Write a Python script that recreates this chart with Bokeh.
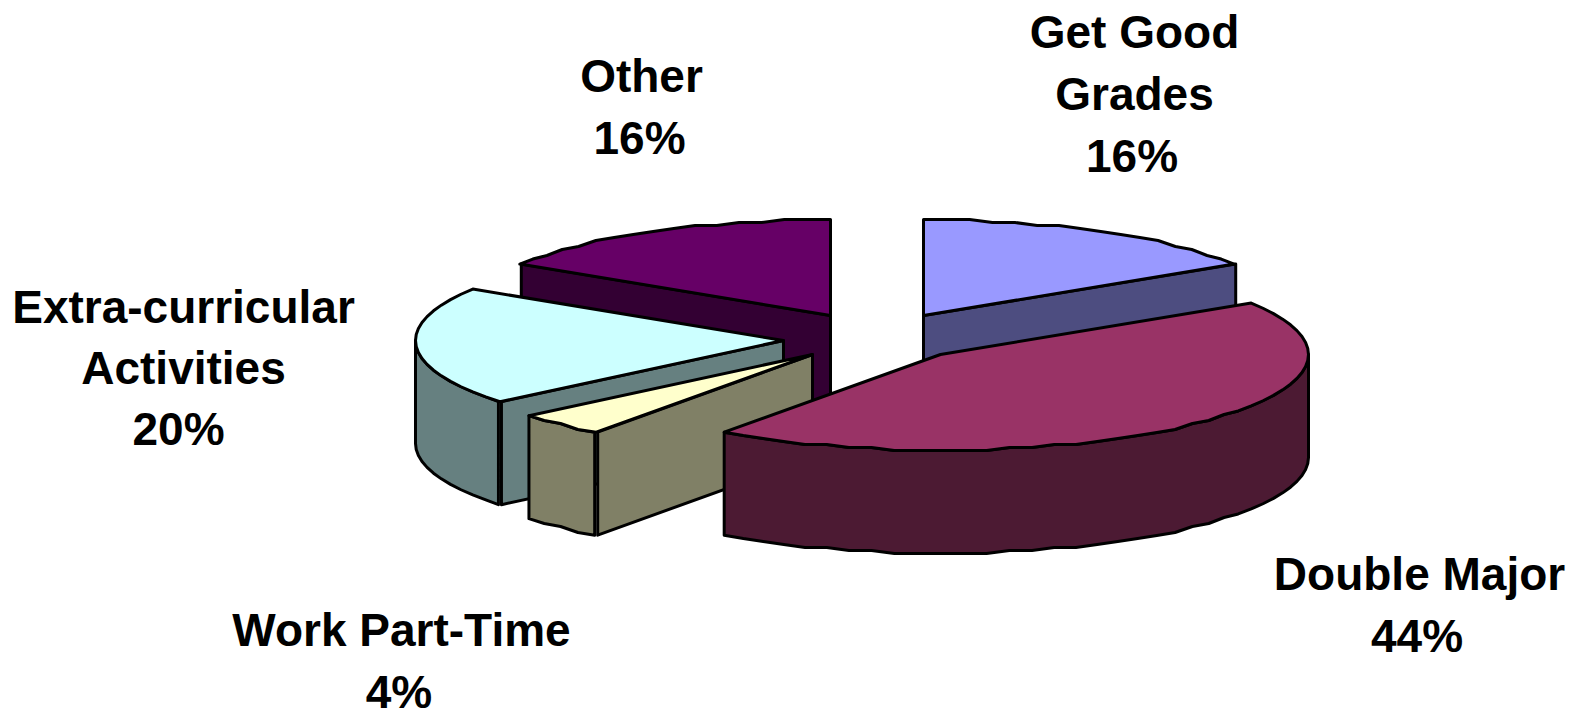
import math

from bokeh.core.properties import value
from bokeh.embed import file_html
from bokeh.models import ColumnDataSource, Range1d
from bokeh.plotting import figure
from bokeh.resources import INLINE

# Slices clockwise from twelve o'clock
categories = ["Get Good Grades", "Double Major", "Work Part-Time",
              "Extra-curricular Activities", "Other"]
shares = [16, 44, 4, 20, 16]
label_lines = [["Get Good", "Grades"], ["Double Major"], ["Work Part-Time"],
               ["Extra-curricular", "Activities"], ["Other"]]

top_colors = ["#9999FF", "#993366", "#FFFFCC", "#CCFFFF", "#660066"]
wall_colors = ["#4D4D80", "#4C1A33", "#808066", "#668080", "#330033"]

# Exploded slice tips and label placement, in page pixels
tips = [(923, 315), (940, 354), (812, 354), (783, 340), (830, 315)]
label_centres = [(1134, 31), (1419, 573), (401, 629), (183, 306), (641, 75)]
label_pitches = [62, 62, 62, 61, 62]
percent_nudges = [-2.5, -2.5, -2.5, -5, -2]

RADIUS_X, RADIUS_Y, DEPTH = 368, 96, 103
PAINT_ORDER = [4, 0, 3, 2, 1]
WALL_GAP = 1.5      # cut faces and outer walls meet along a doubled edge


def rim_point(tip, deg):
    rad = math.radians(deg)
    return tip[0] + RADIUS_X * math.sin(rad), tip[1] - RADIUS_Y * math.cos(rad)


def rim(tip, start, end, step=3.6):
    """Faceted arc: points fall on a 3 px grid along the shallow stretches."""
    count = max(1, int(round((end - start) / step)))
    points = []
    for i in range(count + 1):
        deg = start + (end - start) * i / count
        x, y = rim_point(tip, deg)
        if 0 < i < count and abs(math.cos(math.radians(deg))) > 0.6:
            y = round(y / 3.0) * 3.0
        points.append((x, y))
    return points


def add_face(store, points, color):
    store["xs"].append([pt[0] for pt in points])
    store["ys"].append([pt[1] for pt in points])
    store["fill"].append(color)


faces = {"xs": [], "ys": [], "fill": []}
total = sum(shares)
edges = [0.0]
for share in shares:
    edges.append(edges[-1] + 360.0 * share / total)

for idx in PAINT_ORDER:
    start, end = edges[idx], edges[idx + 1]
    tip = tips[idx]

    # Cut faces that look towards the viewer
    for deg, visible in ((start, math.sin(math.radians(start)) < -1e-6),
                         (end, math.sin(math.radians(end)) > 1e-6)):
        if visible:
            px, py = rim_point(tip, deg)
            add_face(faces, [tip, (px + WALL_GAP, py), (px + WALL_GAP, py + DEPTH),
                             (tip[0], tip[1] + DEPTH)], wall_colors[idx])

    # Outer wall, only the front half of the rim shows
    front_start, front_end = max(start, 90.0), min(end, 270.0)
    if front_start < front_end:
        arc = rim(tip, front_start, front_end)
        if front_start > 180.0:
            arc[0] = (arc[0][0] - WALL_GAP, arc[0][1])
        lower = [(x, y + DEPTH) for x, y in reversed(arc)]
        add_face(faces, arc + lower, wall_colors[idx])

    # Top surface
    add_face(faces, [tip] + rim(tip, start, end), top_colors[idx])

text_x, text_y, text_str = [], [], []
for lines, share, (cx, cy), pitch, nudge in zip(label_lines, shares, label_centres,
                                                label_pitches, percent_nudges):
    for row, line in enumerate(lines):
        text_x.append(cx)
        text_y.append(cy + row * pitch)
        text_str.append(line)
    text_x.append(cx + nudge)
    text_y.append(cy + len(lines) * pitch)
    text_str.append(f"{share}%")

p = figure(width=1585, height=709, output_backend="svg", toolbar_location=None,
           x_range=Range1d(0, 1585), y_range=Range1d(709, 0),
           min_border=0, outline_line_color=None, background_fill_color="white",
           border_fill_color="white")
p.axis.visible = False
p.grid.visible = False

p.patches("xs", "ys", source=ColumnDataSource(faces), fill_color="fill",
          line_color="black", line_width=3, line_join="round")

p.text(text_x, text_y, text=text_str, text_align="center", text_baseline="middle",
       text_font=value("Liberation Sans"), text_font_style="bold",
       text_font_size="46px", text_color="black")

open("out.html", "w").write(file_html(p, INLINE))
